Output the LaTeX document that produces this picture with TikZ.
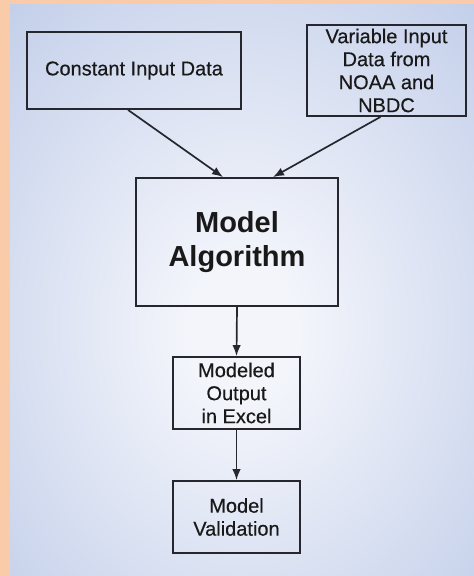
\documentclass[tikz,border=0pt]{standalone}
\usepackage{fontspec}
\setmainfont{Liberation Sans}
\newfontface\boxfont[FakeBold=0.35]{Liberation Sans}
\usetikzlibrary{arrows.meta}
\definecolor{peach}{HTML}{F9CBA8}
\definecolor{bgblue}{HTML}{A0B3DD}
\definecolor{bgwhite}{HTML}{F3F5FB}
\definecolor{boxline}{HTML}{26272E}
\pgfdeclareradialshading{bgglow}{\pgfpoint{0bp}{-4bp}}{color(0bp)=(bgwhite); color(6bp)=(bgwhite); color(60bp)=(bgblue); color(80bp)=(bgblue)}
\begin{document}
\begin{tikzpicture}[x=1pt,y=-1pt,
  box/.style={draw=boxline, line width=1.8pt, align=center, inner sep=0pt,
    font=\boxfont\fontsize{20}{23}\selectfont, text=black!90},
  flow/.style={draw=boxline, line width=1.7pt, -{Latex[length=11pt,width=8.5pt]}}]
\useasboundingbox (0,0) rectangle (474,576);
\fill [peach] (0,0) rectangle (474,576);
\shade [shading=bgglow] (10,4) rectangle (474,576);
\node [box, minimum width=214pt, minimum height=77pt] (const) at (134,70.5) {Constant Input Data};
\node [box, minimum width=159pt, minimum height=91pt] (var) at (386.5,70.5) {Variable Input\\Data from\\NOAA and\\NBDC};
\node [box, minimum width=202pt, minimum height=128pt, font=\fontsize{29}{34}\bfseries] (algo) at (237,242) {Model\\Algorithm};
\node [box, minimum width=127pt, minimum height=72pt] (out) at (236.5,393) {Modeled\\Output\\in Excel};
\node [box, minimum width=127pt, minimum height=72pt] (valid) at (236.5,517) {Model\\Validation};
\draw [flow] ([xshift=-6pt]const.south) -- ([xshift=-14pt]algo.north);
\draw [flow] ([xshift=-6pt]var.south) -- ([xshift=36pt]algo.north);
\draw [flow] (algo.south) -- (out.north);
\draw [flow] (out.south) -- (valid.north);
\end{tikzpicture}
\end{document}
